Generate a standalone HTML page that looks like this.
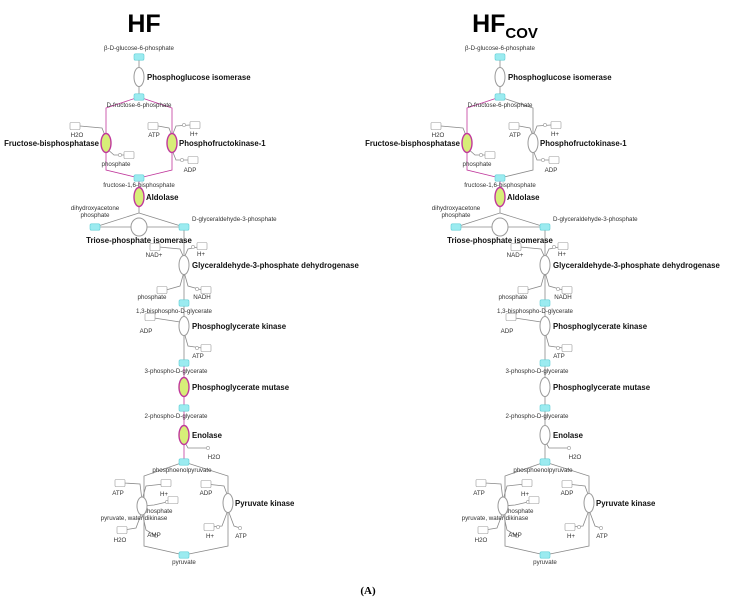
<!DOCTYPE html>
<html>
<head>
<meta charset="utf-8">
<title>Glycolysis pathway: HF vs HFcov</title>
<style>
  html,body{margin:0;padding:0;background:#fff;}
  svg{display:block;}
  .sm{font-family:"Liberation Sans",sans-serif;font-size:6.2px;fill:#333;}
  .en{font-family:"Liberation Sans",sans-serif;font-size:7.8px;font-weight:bold;fill:#111;}
  .tt{font-family:"Liberation Sans",sans-serif;font-weight:bold;fill:#000;}
</style>
</head>
<body>
<svg id="root" width="732" height="605" viewBox="0 0 732 605" xmlns="http://www.w3.org/2000/svg">
  <text class="tt" x="144" y="32" font-size="25" text-anchor="middle">HF</text>
  <text class="tt" x="505" y="32" font-size="25" text-anchor="middle">HF<tspan font-size="15" dy="6">COV</tspan></text>
  <text x="368" y="594" font-family="Liberation Serif, serif" font-weight="bold" font-size="11" text-anchor="middle">(A)</text>
</svg>
<script>
const panels = ["HF", "HFcov"];
const panelOffsets = [5, 366];
const enzymes = ["Phosphoglucose isomerase","Fructose-bisphosphatase","Phosphofructokinase-1","Aldolase","Triose-phosphate isomerase","Glyceraldehyde-3-phosphate dehydrogenase","Phosphoglycerate kinase","Phosphoglycerate mutase","Enolase","pyruvate, water dikinase","Pyruvate kinase"];
const highlightHF = [0,1,1,1,0,0,0,1,1,0,0];
const highlightHFcov = [0,1,0,1,0,0,0,0,0,0,0];

const NS = "http://www.w3.org/2000/svg";
const root = document.getElementById("root");
const MAG = "#c0389c", GRAY = "#8a8a8a";

function mk(tag, attrs, parent){
  const e = document.createElementNS(NS, tag);
  for (const k in attrs) e.setAttribute(k, attrs[k]);
  (parent||root).appendChild(e);
  return e;
}
function line(g, pts, hl){
  const e = mk("polyline", {points: pts.map(p=>p.join(",")).join(" "), fill:"none", stroke: hl?MAG:GRAY, "stroke-width":0.8}, g);
  
  
}
function txt(g, x, y, s, cls, anchor, name){
  const e = mk("text", {x:x, y:y, class:cls, "text-anchor":anchor||"start"}, g);
  e.textContent = s;
  
  
}
function node(g, x, y, label, lx, ly, anchor){
  const e = mk("rect", {x:x-5, y:y-3.2, width:10, height:6.4, rx:1.5, fill:"#9bebf0", stroke:"#5fcfd6", "stroke-width":0.6}, g);
  
  
  if (label) txt(g, lx, ly, label, "sm", anchor||"middle", "metabolite-label");
}
function enz(g, x, y, idx, hl, lx, ly, anchor, rx, ry){
  const on = hl[idx] === 1;
  const e = mk("ellipse", {cx:x, cy:y, rx:rx||5, ry:ry||9.5, fill: on?"#d7ee78":"#fff", stroke: on?MAG:"#9a9a9a", "stroke-width": on?1.4:1}, g);
  
  
  txt(g, lx, ly, enzymes[idx], idx===9?"sm":"en", anchor||"start", "enzyme-label");
}
function cof(g, bx, by, label, lx, ly, anchor){
  const e = mk("rect", {x:bx-5, y:by-3.5, width:10, height:7, rx:1, fill:"#fff", stroke:"#999", "stroke-width":0.6}, g);
  
  
  txt(g, lx, ly, label, "sm", anchor||"middle", "cofactor-label");
}
function dot(g, x, y){
  const e = mk("circle", {cx:x, cy:y, r:1.6, fill:"#fff", stroke:"#999", "stroke-width":0.6}, g);
  
  
}

function drawPanel(off, hl, name){
  const g = mk("g", {});
  
  
  const U = 134 + off, L = 179 + off;
  const Lb = U - 33, Rb = U + 33;
  line(g, [[U,57],[U,97]], false);
  line(g, [[U,97],[Lb,108],[Lb,170],[U,178]], hl[1]===1);
  line(g, [[U,97],[Rb,108],[Rb,170],[U,178]], hl[2]===1);
  line(g, [[Lb-26,126],[Lb-4,128],[Lb,138]], false);
  line(g, [[Lb,148],[Lb+8,155],[Lb+20,155]], false);
  line(g, [[Rb-14,126],[Rb-3,128],[Rb,136]], false);
  line(g, [[Rb,136],[Rb+4,126],[Rb+18,125]], false);
  line(g, [[Rb,150],[Rb+4,160],[Rb+16,160]], false);
  line(g, [[U,178],[U,208]], hl[3]===1);
  line(g, [[U,208],[U,213],[U-44,227]], false);
  line(g, [[U,213],[L,227]], false);
  line(g, [[U-44,227],[U-8,227]], false);
  line(g, [[U+8,227],[L,227]], false);
  line(g, [[L,227],[L,303]], false);
  line(g, [[L-25,247],[L-4,249],[L,258]], false);
  line(g, [[L,258],[L+4,249],[L+14,247]], false);
  line(g, [[L,272],[L-4,286],[L-18,290]], false);
  line(g, [[L,272],[L+4,286],[L+18,290]], false);
  line(g, [[L,303],[L,363]], false);
  line(g, [[L-30,318],[L-4,322],[L,326]], false);
  line(g, [[L,332],[L+4,346],[L+18,348]], false);
  line(g, [[L,363],[L,408]], hl[7]===1);
  line(g, [[L,408],[L,462]], hl[8]===1);
  line(g, [[L,441],[L+4,448],[L+24,448]], false);
  line(g, [[L,462],[L-40,476],[L-40,546],[L,555]], false);
  line(g, [[L,462],[L+44,476],[L+44,546],[L,555]], false);
  line(g, [[L-60,483],[L-44,484],[L-42,500]], false);
  line(g, [[L-42,500],[L-38,486],[L-20,484]], false);
  line(g, [[L-42,506],[L-30,505],[L-17,502]], false);
  line(g, [[L-42,512],[L-48,528],[L-60,530]], false);
  line(g, [[L-42,512],[L-38,530],[L-28,536]], false);
  line(g, [[L+22,484],[L+40,486],[L+44,497]], false);
  line(g, [[L+44,510],[L+38,526],[L+27,527]], false);
  line(g, [[L+44,510],[L+50,526],[L+56,528]], false);

  node(g, U, 57, "β-D-glucose-6-phosphate", U, 50);
  enz(g, U, 77, 0, hl, U+8, 80);
  node(g, U, 97, "D-fructose-6-phosphate", U, 107);
  enz(g, Lb, 143, 1, hl, Lb-7, 146, "end");
  cof(g, Lb-31, 126, "H2O", Lb-29, 137);
  dot(g, Lb+14, 155); cof(g, Lb+23, 155, "phosphate", Lb+10, 166);
  enz(g, Rb, 143, 2, hl, Rb+7, 146);
  cof(g, Rb-19, 126, "ATP", Rb-18, 137);
  dot(g, Rb+12, 125); cof(g, Rb+23, 125, "H+", Rb+22, 136);
  dot(g, Rb+10, 160); cof(g, Rb+21, 160, "ADP", Rb+18, 172);
  node(g, U, 178, "fructose-1,6-bisphosphate", U, 187);
  enz(g, U, 197, 3, hl, U+7, 200);
  node(g, U-44, 227, "", U, 0);
  txt(g, U-44, 210, "dihydroxyacetone", "sm", "middle", "metabolite-label");
  txt(g, U-44, 217, "phosphate", "sm", "middle", "metabolite-label");
  enz(g, U, 227, 4, hl, U, 243, "middle", 8, 9);
  node(g, L, 227, "D-glyceraldehyde-3-phosphate", L+8, 221, "start");
  cof(g, L-29, 247, "NAD+", L-30, 257);
  dot(g, L+9, 247); cof(g, L+18, 246, "H+", L+17, 256);
  enz(g, L, 265, 5, hl, L+8, 268);
  cof(g, L-22, 290, "phosphate", L-32, 299);
  dot(g, L+13, 289); cof(g, L+22, 290, "NADH", L+18, 299);
  node(g, L, 303, "1,3-bisphospho-D-glycerate", L-10, 313);
  cof(g, L-34, 317, "ADP", L-38, 333);
  enz(g, L, 326, 6, hl, L+8, 329);
  dot(g, L+13, 348); cof(g, L+22, 348, "ATP", L+14, 358);
  node(g, L, 363, "3-phospho-D-glycerate", L-8, 373);
  enz(g, L, 387, 7, hl, L+8, 390);
  node(g, L, 408, "2-phospho-D-glycerate", L-8, 418);
  enz(g, L, 435, 8, hl, L+8, 438);
  dot(g, L+24, 448); txt(g, L+30, 459, "H2O", "sm", "middle", "cofactor-label");
  node(g, L, 462, "phosphoenolpyruvate", L-2, 472);
  cof(g, L-64, 483, "ATP", L-66, 495);
  cof(g, L-18, 483, "H+", L-20, 496);
  dot(g, L-17, 502); cof(g, L-11, 500, "phosphate", L-26, 513);
  enz(g, L-42, 506, 9, hl, L-50, 520, "middle", 5, 9);
  cof(g, L-62, 530, "H2O", L-64, 542);
  dot(g, L-28, 536); txt(g, L-30, 537, "AMP", "sm", "middle", "cofactor-label");
  cof(g, L+22, 484, "ADP", L+22, 495);
  enz(g, L+44, 503, 10, hl, L+51, 506);
  dot(g, L+34, 527); cof(g, L+25, 527, "H+", L+26, 538);
  dot(g, L+56, 528); txt(g, L+57, 538, "ATP", "sm", "middle", "cofactor-label");
  node(g, L, 555, "pyruvate", L, 564);
}
drawPanel(panelOffsets[0], highlightHF, "panel-hf");
drawPanel(panelOffsets[1], highlightHFcov, "panel-hfcov");
</script>
</body>
</html>
